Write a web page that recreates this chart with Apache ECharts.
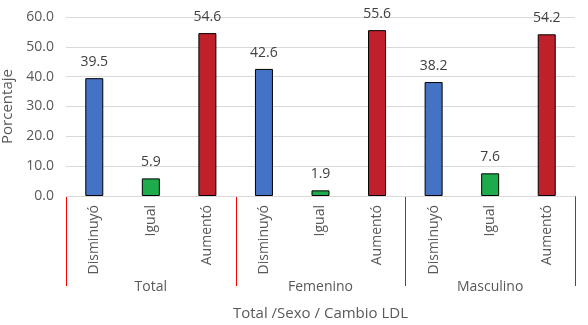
<!DOCTYPE html>
<html>
<head>
<meta charset="utf-8">
<script src="https://cdn.jsdelivr.net/npm/echarts@6/dist/echarts.min.js"></script>
<style>
html, body { margin: 0; padding: 0; background: #fff; }
#chart { width: 588px; height: 325px; }
</style>
</head>
<body>
<div id="chart"></div>
<script>
// categorias y valores
var grupos = ['Total', 'Femenino', 'Masculino'];
var cambios = ['Disminuyó', 'Igual', 'Aumentó'];
var valores = [39.5, 5.9, 54.6, 42.6, 1.9, 55.6, 38.2, 7.6, 54.2];
var colores = ['#4472C4', '#1DAB4B', '#C0202A'];

drawChart();
function drawChart() {
	var myChart = echarts.init(document.getElementById('chart'));
	var cats = [];
	var data = [];
	for (var g = 0; g < grupos.length; g++) {
		for (var c = 0; c < cambios.length; c++) {
			cats.push(cambios[c]);
			data.push({
				value : valores[g * cambios.length + c],
				itemStyle : { color : colores[c] }
			});
		}
	}
	var font = 'Open Sans';
	var option = {
		animation : false,
		textStyle : { fontFamily : font },
		grid : {
			left : 66,
			right : 13,
			top : 17,
			bottom : 129,
			outerBoundsMode : 'none'
		},
		xAxis : [
			{
				type : 'category',
				data : cats,
				axisLine : { lineStyle : { color : '#d9d9d9' } },
				axisTick : { show : false },
				axisLabel : {
					rotate : 90,
					interval : 0,
					margin : 9,
					color : '#595959',
					fontSize : 14,
					fontFamily : font
				}
			},
			{
				type : 'category',
				position : 'bottom',
				data : grupos,
				name : 'Total /Sexo / Cambio LDL',
				nameLocation : 'middle',
				nameGap : 110,
				nameTextStyle : { color : '#595959', fontSize : 15, fontFamily : font },
				axisLine : { show : false },
				axisTick : { show : false },
				axisLabel : {
					interval : 0,
					margin : 84,
					color : '#595959',
					fontSize : 14,
					fontFamily : font
				}
			}
		],
		yAxis : {
			type : 'value',
			min : 0,
			max : 60,
			interval : 10,
			name : 'Porcentaje',
			nameLocation : 'middle',
			nameGap : 36,
			nameTextStyle : { color : '#595959', fontSize : 15, fontFamily : font },
			axisLine : { show : false },
			axisTick : { show : false },
			splitLine : { lineStyle : { color : '#d9d9d9' } },
			axisLabel : {
				color : '#595959',
				fontSize : 14,
				fontFamily : font,
				margin : 12,
				formatter : function (v) { return v.toFixed(1); }
			}
		},
		series : [
			{
				type : 'bar',
				xAxisIndex : 0,
				barWidth : 18,
				data : data,
				itemStyle : { borderColor : '#000', borderWidth : 1 },
				label : {
					show : true,
					position : 'top',
					distance : 9,
					color : '#404040',
					fontSize : 14,
					fontFamily : font,
					formatter : function (p) { return p.value.toFixed(1); }
				}
			}
		]
	};
	myChart.setOption(option, true);

	// separadores entre grupos (rectangulos de 1px), usando las escalas del eje
	var x0 = myChart.convertToPixel({ xAxisIndex : 0 }, 0);
	var x1 = myChart.convertToPixel({ xAxisIndex : 0 }, 1);
	var half = (x1 - x0) / 2;
	var y0 = myChart.convertToPixel({ yAxisIndex : 0 }, 0);
	var seps = [];
	for (var k = 0; k <= grupos.length; k++) {
		var x = k < grupos.length
			? myChart.convertToPixel({ xAxisIndex : 0 }, k * cambios.length) - half
			: myChart.convertToPixel({ xAxisIndex : 0 }, cats.length - 1) + half;
		seps.push({
			type : 'rect',
			silent : true,
			shape : { x : Math.round(x), y : Math.round(y0), width : 1, height : 90 },
			style : { fill : 'red' }
		});
	}
	myChart.setOption({ graphic : seps });
}
</script>
</body>
</html>
